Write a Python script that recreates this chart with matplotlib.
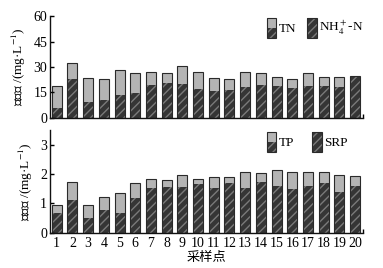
import matplotlib
matplotlib.use('Agg')
import matplotlib.pyplot as plt
from matplotlib.patches import Rectangle
import numpy as np

sites = list(range(1, 21))
tn = [18.6, 32.6, 23.8, 23.2, 28.1, 26.6, 26.8, 26.6, 30.5, 27.1,
      23.4, 23.0, 27.3, 26.4, 24.0, 22.9, 26.4, 24.0, 24.2, 24.6]
nh4 = [5.9, 23.0, 9.6, 10.7, 13.7, 14.8, 19.3, 20.3, 20.1, 17.2,
       16.0, 16.6, 18.4, 19.5, 18.9, 17.8, 18.9, 18.9, 18.2, 24.2]
tp = [0.95, 1.74, 0.95, 1.21, 1.36, 1.71, 1.83, 1.80, 1.96, 1.83,
      1.90, 1.90, 2.06, 2.05, 2.14, 2.07, 2.08, 2.07, 1.98, 1.94]
srp = [0.68, 1.13, 0.51, 0.79, 0.68, 1.20, 1.53, 1.57, 1.56, 1.67,
       1.51, 1.68, 1.53, 1.73, 1.61, 1.49, 1.61, 1.71, 1.38, 1.61]

plt.rcParams['mathtext.fontset'] = 'stix'

light = '#b4b4b4'
dark = '#353535'
hatch_col = '#7a7a7a'
edge = '#2a2a2a'
serif = 'Liberation Serif'
mixed = ['Liberation Serif', 'Noto Sans CJK SC']


class SplitHandler:
    # tall two-tone legend key, centred on the text line
    def __init__(self, split):
        self.split = split

    def legend_artist(self, legend, orig_handle, fontsize, handlebox):
        x0, y0 = handlebox.xdescent, handlebox.ydescent
        w, h = handlebox.width, handlebox.height
        tr = handlebox.get_transform()
        H = 14.4
        yb = -y0 + h / 2 - H / 2 - h * 0.1
        hb = H * self.split
        if self.split < 1:
            handlebox.add_artist(Rectangle((x0, yb + hb), w, H - hb, facecolor=light,
                                           edgecolor='none', transform=tr))
        handlebox.add_artist(Rectangle((x0, yb), w, hb, facecolor=dark, edgecolor=hatch_col,
                                       hatch='////', lw=0, transform=tr))
        r = Rectangle((x0, yb), w, H, facecolor='none', edgecolor=edge, lw=0.8, transform=tr)
        handlebox.add_artist(r)
        return r


def panel(ax, total, part, ymax, yticks, ylabel, labels, leg_y, colsp):
    x = np.array(sites)
    w = 0.64
    ax.bar(x, total, w, color=light, edgecolor='none')
    ax.bar(x, part, w, color=dark, edgecolor=hatch_col, hatch='////', linewidth=0)
    ax.bar(x, total, w, color='none', edgecolor=edge, linewidth=0.8)
    ax.set_xlim(0.57, 20.51)
    ax.set_ylim(0, ymax)
    ax.set_yticks(yticks)
    ax.set_yticklabels([str(t) for t in yticks], fontfamily=serif, fontsize=10)
    ax.tick_params(axis='y', direction='in', length=3, width=1, pad=2)
    ax.tick_params(axis='x', length=0)
    ax.set_xticks([20.51], minor=True)
    ax.tick_params(axis='x', which='minor', direction='in', length=3, width=1)
    for s in ['top', 'right']:
        ax.spines[s].set_visible(False)
    for s in ['left', 'bottom']:
        ax.spines[s].set_linewidth(1)
        ax.spines[s].set_color('#111111')
    ax.set_ylabel(ylabel, fontfamily=mixed, fontsize=9.5, labelpad=4)
    h1 = Rectangle((0, 0), 1, 1)
    h2 = Rectangle((0, 0), 1, 1)
    leg = ax.legend([h1, h2], labels, loc='center left', bbox_to_anchor=(0.693, leg_y),
                    ncol=2, frameon=False, handlelength=0.72, handleheight=0.7,
                    handletextpad=0.2, columnspacing=colsp, borderpad=0, borderaxespad=0,
                    prop={'family': serif, 'size': 9.5},
                    handler_map={h1: SplitHandler(0.5), h2: SplitHandler(1.0)})
    return leg


fig = plt.figure(figsize=(3.83, 2.68), dpi=100)
ax1 = fig.add_axes([0.1305, 0.560, 0.8175, 0.380])
ax2 = fig.add_axes([0.1305, 0.131, 0.8175, 0.384])

panel(ax1, tn, nh4, 60, [0, 15, 30, 45, 60], '氮浓度 /(mg·L$^{-1}$)',
      ['TN', 'NH$_4^+$-N'], 0.88, 0.8)
ax1.set_xticks(sites)
ax1.set_xticklabels([])

panel(ax2, tp, srp, 3.5, [0, 1, 2, 3], '磷浓度 /(mg·L$^{-1}$)',
      ['TP', 'SRP'], 0.874, 1.35)
ax2.set_xticks(sites)
ax2.set_xticklabels([str(s) for s in sites], fontfamily=serif, fontsize=10)
ax2.tick_params(axis='x', pad=3)
ax2.set_xlabel('采样点', fontfamily=mixed, fontsize=9.5, labelpad=1)

fig.savefig('out.png', dpi=100)
